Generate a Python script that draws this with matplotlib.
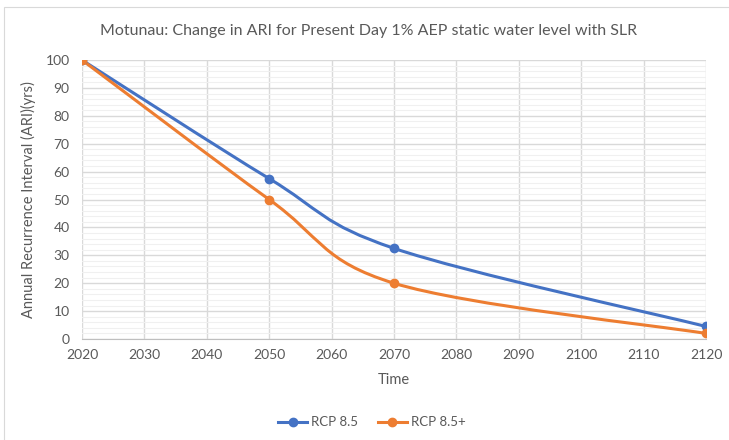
import matplotlib.pyplot as plt
import numpy as np
from matplotlib.path import Path
from matplotlib.patches import PathPatch, Rectangle

years = [2020, 2050, 2070, 2120]
rcp85 = [100, 57.5, 32.5, 4.5]
rcp85_plus = [100, 50, 20, 2]
series_names = ["RCP 8.5", "RCP 8.5+"]
colors = ["#4472C4", "#ED7D31"]

plt.rcParams['font.family'] = ['Lato', 'DejaVu Sans']


def smooth_path(x, y):
  # excel style smoothed line: bezier with catmull-rom tangents
  x = np.asarray(x, float)
  y = np.asarray(y, float)
  n = len(x)
  verts = [(x[0], y[0])]
  codes = [Path.MOVETO]
  for i in range(n - 1):
    i0 = max(i - 1, 0)
    i3 = min(i + 2, n - 1)
    c1 = (x[i] + (x[i + 1] - x[i0]) / 6, y[i] + (y[i + 1] - y[i0]) / 6)
    c2 = (x[i + 1] - (x[i3] - x[i]) / 6, y[i + 1] - (y[i3] - y[i]) / 6)
    verts += [c1, c2, (x[i + 1], y[i + 1])]
    codes += [Path.CURVE4] * 3
  return Path(verts, codes)


fig = plt.figure(figsize=(7.29, 4.4), dpi=100)
fig.patches.append(Rectangle((0.006, -0.01), 1.0, 0.993, transform=fig.transFigure,
                             fill=False, edgecolor="#D9D9D9", linewidth=0.8))
ax = fig.add_axes([0.1125, 0.2295, 0.856, 0.634])

for vals, name, c in zip([rcp85, rcp85_plus], series_names, colors):
  ax.add_patch(PathPatch(smooth_path(years, vals), fill=False, edgecolor=c,
                         linewidth=2.2, zorder=3, capstyle='round'))
  ax.plot(years, vals, linestyle='none', marker='o', markersize=6, color=c, zorder=4)
  ax.plot([], [], color=c, linewidth=2.2, marker='o', markersize=6, label=name)

ax.set_xlim(2020, 2120)
ax.set_ylim(0, 100)
ax.set_xticks(np.arange(2020, 2121, 10))
ax.set_yticks(np.arange(0, 101, 10))
ax.set_yticks(np.arange(0, 101, 2), minor=True)
ax.grid(which='major', color="#D9D9D9", linewidth=1.0, zorder=0)
ax.grid(which='minor', axis='y', color="#F0F0F0", linewidth=0.8, zorder=0)
ax.set_axisbelow(True)
for s in ['top', 'right', 'left']:
  ax.spines[s].set_visible(False)
ax.spines['bottom'].set_color("#BFBFBF")
ax.tick_params(which='both', length=0, colors="#595959", labelsize=10)
ax.tick_params(axis='y', pad=9)
ax.tick_params(axis='x', pad=7)

ax.set_xlabel("Time", color="#595959", fontsize=10.5, labelpad=9)
ax.set_ylabel("Annual Recurrence Interval (ARI)(yrs)", color="#595959", fontsize=10.5, labelpad=7)
fig.text(0.505, 0.93, "Motunau: Change in ARI for Present Day 1% AEP static water level with SLR",
         ha='center', va='center', color="#595959", fontsize=11.5)

ax.legend(loc='center', bbox_to_anchor=(0.51, 0.04), bbox_transform=fig.transFigure,
          ncol=2, frameon=False, fontsize=9.5, labelcolor="#595959", handlelength=2.2,
          columnspacing=1.5, handletextpad=0.3)

fig.savefig("out.png", dpi=100)
